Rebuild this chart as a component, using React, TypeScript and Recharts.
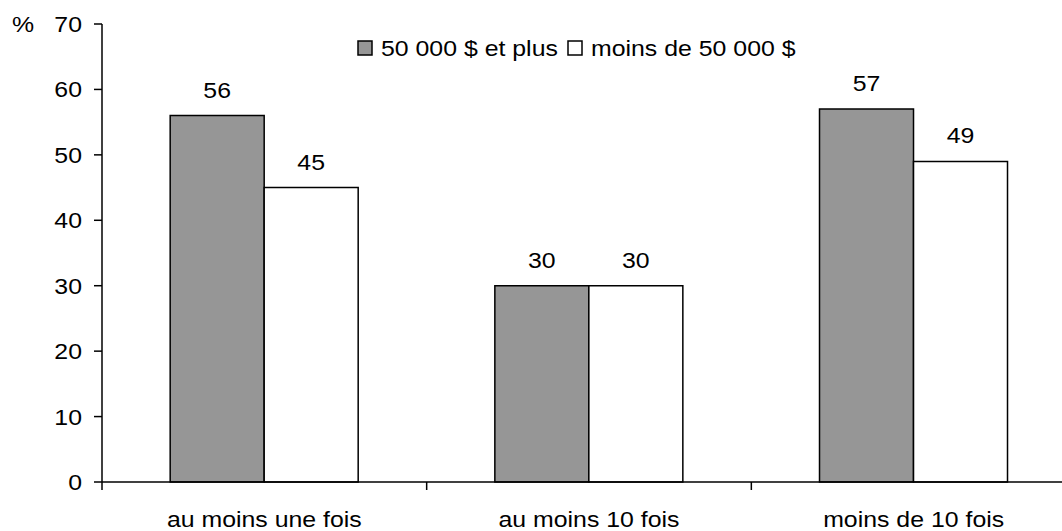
import { BarChart, Bar, XAxis, YAxis, Legend, LabelList } from "recharts";

// values (%)
const categories = ["au moins une fois", "au moins 10 fois", "moins de 10 fois"];
const highIncome = [56, 30, 57];
const lowIncome = [45, 30, 49];
const seriesNames = ["50 000 $ et plus", "moins de 50 000 $"];
const yTicks = [0, 10, 20, 30, 40, 50, 60, 70];

const data = categories.map((cat, i) => ({
  cat,
  high: highIncome[i],
  low: lowIncome[i],
}));

const W = 1090;
const H = 531;
const MARGIN = { top: 24, right: 14, bottom: 0, left: 0 };
const Y_W = 102;
const X_H = 49;
const PLOT_W = W - MARGIN.left - MARGIN.right - Y_W;
const HALF_BAND = PLOT_W / categories.length / 2;
const FONT = '"Liberation Sans", Arial, sans-serif';
const FONT_SIZE = 22;
const STRETCH = 1.13;

function StretchText({ x, y, anchor, children }: any) {
  return (
    <g transform={`translate(${x},${y}) scale(${STRETCH},1)`}>
      <text x={0} y={0} textAnchor={anchor} fontFamily={FONT} fontSize={FONT_SIZE} fill="#000">
        {children}
      </text>
    </g>
  );
}

const XTick = (props: any) => {
  const { x, y, payload } = props;
  const idx = props.index ?? payload.index;
  const axisY = y - 8;
  return (
    <g>
      <line x1={x - HALF_BAND} x2={x - HALF_BAND} y1={axisY} y2={axisY + 8} stroke="#000" strokeWidth={1.5} />
      {idx === categories.length - 1 && (
        <line x1={x + HALF_BAND} x2={x + HALF_BAND} y1={axisY} y2={axisY + 8} stroke="#000" strokeWidth={1.5} />
      )}
      <StretchText x={x} y={axisY + 45} anchor="middle">
        {payload.value}
      </StretchText>
    </g>
  );
};

const YTick = (props: any) => {
  const { x, y, payload } = props;
  return (
    <StretchText x={x} y={y + 8} anchor="end">
      {payload.value}
    </StretchText>
  );
};

const BarValue = (props: any) => {
  const { x, y, width, value } = props;
  return (
    <StretchText x={Number(x) + Number(width) / 2} y={Number(y) - 18} anchor="middle">
      {value}
    </StretchText>
  );
};

const PercentLabel = () => (
  <StretchText x={12} y={32} anchor="start">
    %
  </StretchText>
);

const LegendContent = (props: any) => {
  const items = props.payload || [];
  return (
    <svg width={460} height={30}>
      {items.map((item: any, i: number) => {
        const x0 = i * 210;
        return (
          <g key={item.value}>
            <rect x={x0 + 3} y={7} width={14} height={14} fill={item.color} stroke="#000" strokeWidth={1.5} />
            <StretchText x={x0 + 26} y={22} anchor="start">
              {item.value}
            </StretchText>
          </g>
        );
      })}
    </svg>
  );
};

export default function App() {
  return (
    <div
      style={{
        position: "fixed",
        left: 0,
        top: 0,
        width: 1062,
        height: 531,
        overflow: "hidden",
        background: "#fff",
      }}
    >
      <BarChart width={W} height={H} data={data} margin={MARGIN} barCategoryGap="21%" barGap={0}>
        <XAxis
          dataKey="cat"
          height={X_H}
          tickSize={8}
          tickMargin={0}
          tickLine={false}
          axisLine={{ stroke: "#000", strokeWidth: 1.5 }}
          tick={<XTick />}
          interval={0}
        />
        <XAxis
          xAxisId="top"
          orientation="top"
          dataKey="cat"
          height={0}
          tick={false}
          tickLine={false}
          axisLine={{ stroke: "#000", strokeWidth: 1.5 }}
        />
        <YAxis
          width={Y_W}
          domain={[0, 70]}
          ticks={yTicks}
          interval={0}
          tickSize={8}
          tickMargin={12}
          tickLine={{ stroke: "#000", strokeWidth: 1.5 }}
          axisLine={{ stroke: "#000", strokeWidth: 1.5 }}
          tick={<YTick />}
          label={{ content: <PercentLabel /> }}
        />
        <Legend
          layout="horizontal"
          verticalAlign="middle"
          align="center"
          content={<LegendContent />}
          wrapperStyle={{ position: "absolute", left: 355, top: 34, width: 460 }}
        />
        <Bar
          dataKey="high"
          name={seriesNames[0]}
          fill="#969696"
          stroke="#000"
          strokeWidth={1.5}
          isAnimationActive={false}
        >
          <LabelList dataKey="high" content={<BarValue />} />
        </Bar>
        <Bar
          dataKey="low"
          name={seriesNames[1]}
          fill="#ffffff"
          stroke="#000"
          strokeWidth={1.5}
          isAnimationActive={false}
        >
          <LabelList dataKey="low" content={<BarValue />} />
        </Bar>
      </BarChart>
    </div>
  );
}
